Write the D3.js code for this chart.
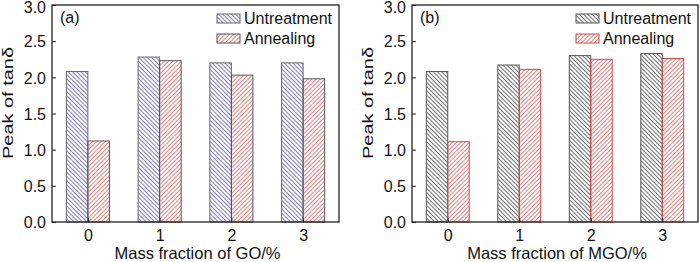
<!DOCTYPE html>
<html><head><meta charset="utf-8">
<script src="https://cdn.jsdelivr.net/npm/d3@7"></script>
<style>body{margin:0;background:#fff}svg{display:block}text{font-family:"Liberation Sans",Arial,sans-serif;fill:#111}</style>
</head><body><svg id="c" width="700" height="262"></svg>
<script>
const categories = ["0", "1", "2", "3"];
const seriesNames = ["Untreatment", "Annealing"];
const goUntreated = [2.08, 2.28, 2.20, 2.20];
const goAnnealed = [1.12, 2.23, 2.03, 1.98];
const mgoUntreated = [2.08, 2.17, 2.30, 2.33];
const mgoAnnealed = [1.11, 2.11, 2.25, 2.26];
const yTicks = [0, 0.5, 1.0, 1.5, 2.0, 2.5, 3.0];
const panelLabels = ["(a)", "(b)"];
const xTitles = ["Mass fraction of GO/%", "Mass fraction of MGO/%"];
const yTitle = "Peak of tan\u03b4";

const svg = d3.select("#c");
const defs = svg.append("defs");
function hatch(id, color, dir, w) {
  const p = defs.append("pattern").attr("id", id).attr("patternUnits", "userSpaceOnUse")
    .attr("width", 3).attr("height", 3).attr("patternTransform", `rotate(${dir})`);
  p.append("line").attr("x1", 0.5).attr("y1", 0).attr("x2", 0.5).attr("y2", 3)
    .attr("stroke", color).attr("stroke-width", w);
}
hatch("hBlue", "#6a64bb", -45, 0.85);
hatch("hRedA", "#de6a6a", 45, 0.85);
hatch("hBlack", "#4a4a4a", -45, 0.8);
hatch("hRedB", "#de6a6a", 45, 0.85);

const panels = [
  {x0: 52, x1: 339, data: [goUntreated, goAnnealed], fills: ["url(#hBlue)", "url(#hRedA)"], strokes: ["#666", "#555"]},
  {x0: 412, x1: 698, data: [mgoUntreated, mgoAnnealed], fills: ["url(#hBlack)", "url(#hRedB)"], strokes: ["#555", "#d04848"]}
];
const yTop = 5, yBot = 222;

panels.forEach((P, pi) => {
  const g = svg.append("g");
  const x = d3.scaleLinear().domain([-0.5, 3.5]).range([P.x0, P.x1]);
  const y = d3.scaleLinear().domain([0, 3]).range([yBot, yTop]);
  const bw = 0.3;
  P.data.forEach((vals, si) => {
    g.selectAll(null).data(vals).enter().append("rect")
      .attr("x", (d, i) => x(i + (si === 0 ? -bw : 0)))
      .attr("width", x(bw) - x(0))
      .attr("y", d => y(d))
      .attr("height", d => y(0) - y(d))
      .attr("fill", P.fills[si])
      .attr("stroke", P.strokes[si]).attr("stroke-width", 1);
  });
  g.append("rect").attr("x", P.x0).attr("y", yTop).attr("width", P.x1 - P.x0).attr("height", yBot - yTop)
    .attr("fill", "none").attr("stroke", "#222").attr("stroke-width", 1.3);
  const ya = d3.axisLeft(y).tickValues(yTicks).tickFormat(d3.format(".1f")).tickSizeInner(-4).tickSizeOuter(0).tickPadding(6);
  const yg = g.append("g").attr("transform", `translate(${P.x0},0)`).call(ya);
  yg.select(".domain").remove();
  yg.selectAll("line").attr("stroke", "#222");
  yg.selectAll("text").style("font-size", "16px").style("font-family", '"Liberation Sans",Arial,sans-serif').attr("fill", "#111")
    .attr("dy", d => d === 3 ? "0.45em" : "0.36em");
  const xa = d3.axisBottom(x).tickValues([0, 1, 2, 3]).tickFormat((d, i) => categories[i]).tickSizeInner(-4).tickSizeOuter(0).tickPadding(8);
  const xg = g.append("g").attr("transform", `translate(0,${yBot})`).call(xa);
  xg.select(".domain").remove();
  xg.selectAll("line").attr("stroke", "#222");
  xg.selectAll("text").style("font-size", "16px").style("font-family", '"Liberation Sans",Arial,sans-serif').attr("fill", "#111").attr("dy", "0.71em");
  g.append("text").attr("x", (P.x0 + P.x1) / 2 + 2).attr("y", 259).attr("text-anchor", "middle")
    .style("font-size", "16.5px").text(xTitles[pi]);
  g.append("text").attr("transform", `translate(${P.x0 - 39},103) rotate(-90)`).attr("text-anchor", "middle")
    .style("font-size", "15px").attr("textLength", 112).attr("lengthAdjust", "spacingAndGlyphs").text(yTitle);
  g.append("text").attr("x", P.x0 + 8).attr("y", 23).style("font-size", "16px").text(panelLabels[pi]);
  const lx = P.x1 - 122;
  seriesNames.forEach((n, si) => {
    g.append("rect").attr("x", lx).attr("y", 14 + si * 20).attr("width", 23).attr("height", 9)
      .attr("fill", P.fills[si]).attr("stroke", P.strokes[si]).attr("stroke-width", 1);
    g.append("text").attr("x", lx + 27).attr("y", 24 + si * 20).style("font-size", "16px").text(n);
  });
});
</script></body></html>
